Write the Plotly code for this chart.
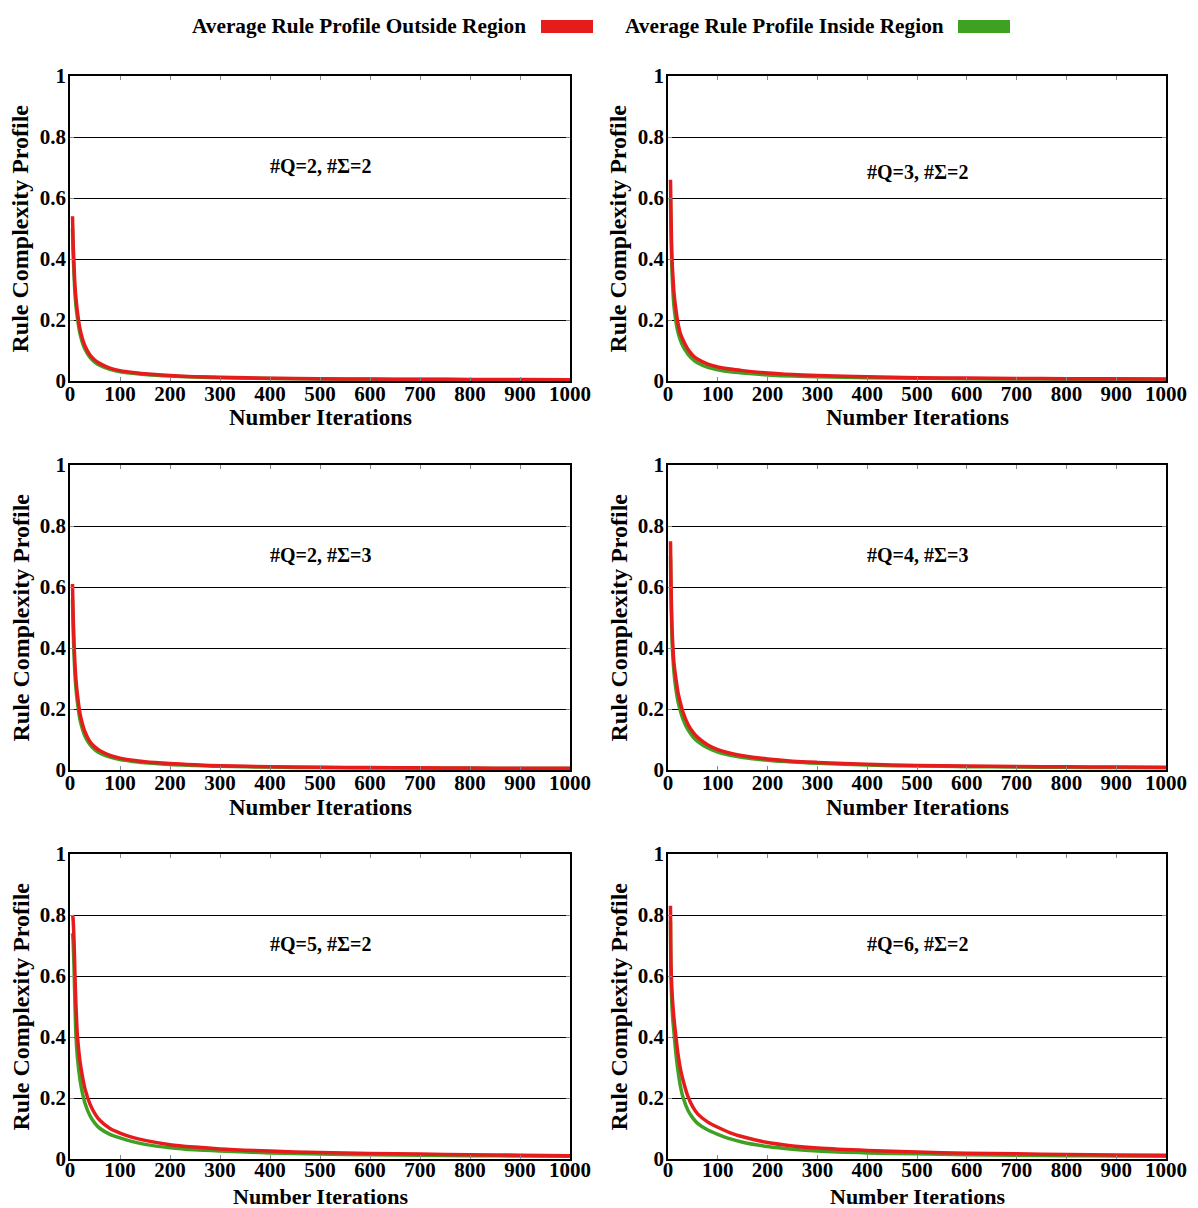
import plotly.graph_objects as go

# Iteration count at which each profile value was sampled
iterations = [5, 6, 8, 10, 12, 15, 20, 25, 30, 40, 50, 60, 80, 100, 125, 150,
              200, 250, 300, 400, 500, 600, 700, 800, 900, 1000]

# Panel labels (#Q states, #Sigma symbols)
panel_labels = ["#Q=2, #Σ=2", "#Q=3, #Σ=2", "#Q=2, #Σ=3",
                "#Q=4, #Σ=3", "#Q=5, #Σ=2", "#Q=6, #Σ=2"]

# Average rule profile outside the region, one list per panel
outside_q2s2 = [0.54, 0.47, 0.38, 0.31, 0.27, 0.225, 0.17, 0.138, 0.115, 0.085, 0.068, 0.057, 0.042,
                0.034, 0.028, 0.024, 0.018, 0.014, 0.012, 0.009, 0.0075, 0.0065, 0.0058, 0.0052, 0.0047, 0.0043]
outside_q3s2 = [0.66, 0.55, 0.40, 0.34, 0.29, 0.245, 0.19, 0.155, 0.135, 0.104, 0.084, 0.071, 0.055,
                0.046, 0.039, 0.034, 0.026, 0.021, 0.018, 0.014, 0.011, 0.0095, 0.0085, 0.0075, 0.007, 0.0065]
outside_q2s3 = [0.61, 0.53, 0.42, 0.345, 0.295, 0.245, 0.185, 0.15, 0.125, 0.093, 0.075, 0.063, 0.048,
                0.039, 0.032, 0.027, 0.021, 0.017, 0.014, 0.011, 0.009, 0.0078, 0.007, 0.0063, 0.0058, 0.0054]
outside_q4s3 = [0.75, 0.62, 0.47, 0.40, 0.35, 0.31, 0.255, 0.22, 0.19, 0.15, 0.124, 0.106, 0.082,
                0.067, 0.055, 0.047, 0.036, 0.029, 0.025, 0.019, 0.015, 0.013, 0.0115, 0.0105, 0.0095, 0.009]
outside_q5s2 = [0.80, 0.79, 0.72, 0.60, 0.50, 0.40, 0.32, 0.27, 0.23, 0.18, 0.148, 0.126, 0.100,
                0.085, 0.071, 0.061, 0.047, 0.039, 0.033, 0.026, 0.021, 0.018, 0.016, 0.014, 0.0125, 0.011]
outside_q6s2 = [0.83, 0.64, 0.55, 0.50, 0.46, 0.415, 0.345, 0.295, 0.26, 0.205, 0.17, 0.147, 0.121,
                0.104, 0.086, 0.073, 0.054, 0.043, 0.036, 0.028, 0.023, 0.019, 0.017, 0.015, 0.0135, 0.012]

# Average rule profile inside the region, one list per panel
inside_q2s2 = [0.50, 0.43, 0.35, 0.285, 0.245, 0.205, 0.155, 0.125, 0.104, 0.077, 0.061, 0.051, 0.038,
               0.030, 0.025, 0.021, 0.016, 0.013, 0.011, 0.008, 0.0065, 0.0055, 0.005, 0.0045, 0.004, 0.0037]
inside_q3s2 = [0.60, 0.49, 0.36, 0.29, 0.245, 0.205, 0.16, 0.133, 0.114, 0.088, 0.071, 0.059, 0.045,
               0.037, 0.030, 0.026, 0.020, 0.016, 0.014, 0.011, 0.009, 0.0075, 0.0065, 0.006, 0.0055, 0.005]
inside_q2s3 = [0.56, 0.48, 0.38, 0.31, 0.265, 0.22, 0.165, 0.134, 0.111, 0.083, 0.066, 0.055, 0.042,
               0.034, 0.028, 0.024, 0.018, 0.015, 0.012, 0.0095, 0.0078, 0.0068, 0.006, 0.0055, 0.005, 0.0046]
inside_q4s3 = [0.70, 0.57, 0.43, 0.365, 0.32, 0.275, 0.225, 0.193, 0.167, 0.132, 0.109, 0.093, 0.072,
               0.059, 0.048, 0.041, 0.032, 0.026, 0.022, 0.016, 0.013, 0.011, 0.0098, 0.0088, 0.008, 0.0075]
inside_q5s2 = [0.74, 0.72, 0.63, 0.50, 0.40, 0.33, 0.26, 0.215, 0.183, 0.142, 0.117, 0.100, 0.081,
               0.069, 0.057, 0.048, 0.037, 0.030, 0.026, 0.020, 0.016, 0.014, 0.012, 0.011, 0.0098, 0.009]
inside_q6s2 = [0.78, 0.60, 0.50, 0.45, 0.415, 0.36, 0.29, 0.238, 0.203, 0.16, 0.134, 0.116, 0.095,
               0.081, 0.066, 0.055, 0.041, 0.032, 0.026, 0.020, 0.017, 0.014, 0.012, 0.011, 0.010, 0.009]

outside_series = [outside_q2s2, outside_q3s2, outside_q2s3, outside_q4s3, outside_q5s2, outside_q6s2]
inside_series = [inside_q2s2, inside_q3s2, inside_q2s3, inside_q4s3, inside_q5s2, inside_q6s2]
label_heights = [0.705, 0.685, 0.705, 0.705, 0.705, 0.705]

x_ticks = list(range(0, 1001, 100))
y_ticks = [0, 0.2, 0.4, 0.6, 0.8, 1]
y_tick_text = ["0", "0.2", "0.4", "0.6", "0.8", "1"]

x_title = "Number Iterations"
y_title = "Rule Complexity Profile"
legend_outside = "Average Rule Profile Outside Region"
legend_inside = "Average Rule Profile Inside Region"

RED = "#e61b1c"
GREEN = "#3fa122"
FONT = "Liberation Serif"

W, H = 1198, 1208
col_px = [(70, 570), (668, 1166)]
row_px = [(76, 381), (465, 770), (854, 1159)]
x_title_px = [418, 807, 1196]
x_title_size = [23, 23, 22]
x_label_standoff = [-7, -7, -9]
y_title_px = [20, 618]

fig = go.Figure()
layout = dict(
    width=W, height=H, margin=dict(l=0, r=0, t=0, b=0, autoexpand=False),
    paper_bgcolor="white", plot_bgcolor="white",
    font=dict(family=FONT, color="black"),
    showlegend=False,
)
annotations = []
shapes = []

for i in range(6):
    r, c = divmod(i, 2)
    xa = "x" if i == 0 else f"x{i + 1}"
    ya = "y" if i == 0 else f"y{i + 1}"
    xkey = "xaxis" if i == 0 else f"xaxis{i + 1}"
    ykey = "yaxis" if i == 0 else f"yaxis{i + 1}"
    x0, x1 = col_px[c]
    y0, y1 = row_px[r]

    fig.add_trace(go.Scatter(x=iterations, y=inside_series[i], mode="lines",
                             line=dict(color=GREEN, width=3.5, shape="spline", smoothing=0.8),
                             xaxis=xa, yaxis=ya, name=legend_inside))
    fig.add_trace(go.Scatter(x=iterations, y=outside_series[i], mode="lines",
                             line=dict(color=RED, width=3.5, shape="spline", smoothing=0.8),
                             xaxis=xa, yaxis=ya, name=legend_outside))

    layout[xkey] = dict(
        domain=[x0 / W, x1 / W], range=[0, 1000], anchor=ya, automargin=False,
        tickvals=x_ticks, ticktext=[f"<b>{t}</b>" for t in x_ticks],
        ticks="inside", ticklen=4, tickcolor="#888", ticklabelstandoff=x_label_standoff[r],
        showline=True, linecolor="black", linewidth=1.5, mirror="ticks",
        showgrid=False, zeroline=False,
        tickfont=dict(family=FONT, size=21, color="black"),
    )
    layout[ykey] = dict(
        domain=[1 - y1 / H, 1 - y0 / H], range=[0, 1], anchor=xa, automargin=False,
        tickvals=y_ticks, ticktext=[f"<b>{t}</b>" for t in y_tick_text],
        ticks="inside", ticklen=4, tickcolor="#888", ticklabelstandoff=-2,
        showline=True, linecolor="black", linewidth=1.5, mirror="ticks",
        showgrid=True, gridcolor="black", gridwidth=1, zeroline=False,
        tickfont=dict(family=FONT, size=21, color="black"),
    )
    annotations.append(dict(
        x=500, y=label_heights[i], xref=xa, yref=ya, showarrow=False,
        text=f"<b>{panel_labels[i]}</b>", font=dict(family=FONT, size=20, color="black"),
    ))
    # Axis titles
    annotations.append(dict(
        x=(x0 + x1) / 2 / W, y=1 - x_title_px[r] / H, xref="paper", yref="paper",
        xanchor="center", yanchor="middle", showarrow=False, borderpad=0,
        text=f"<b>{x_title}</b>", font=dict(family=FONT, size=x_title_size[r], color="black"),
    ))
    annotations.append(dict(
        x=y_title_px[c] / W, y=1 - (y0 + y1) / 2 / H, xref="paper", yref="paper",
        xanchor="center", yanchor="middle", showarrow=False, textangle=-90,
        text=f"<b>{y_title}</b>", font=dict(family=FONT, size=24, color="black"),
    ))

# Legend row: text followed by a colour swatch
legend_y = 1 - 26 / H
annotations.append(dict(x=528 / W, y=legend_y, xref="paper", yref="paper",
                        xanchor="right", yanchor="middle", showarrow=False,
                        text=f"<b>{legend_outside}</b>",
                        font=dict(family=FONT, size=21.3, color="black")))
annotations.append(dict(x=946 / W, y=legend_y, xref="paper", yref="paper",
                        xanchor="right", yanchor="middle", showarrow=False,
                        text=f"<b>{legend_inside}</b>",
                        font=dict(family=FONT, size=21.3, color="black")))
shapes.append(dict(type="rect", xref="paper", yref="paper",
                   x0=541 / W, x1=593 / W, y0=1 - 33 / H, y1=1 - 20 / H,
                   fillcolor=RED, line=dict(width=0)))
shapes.append(dict(type="rect", xref="paper", yref="paper",
                   x0=958 / W, x1=1010 / W, y0=1 - 33 / H, y1=1 - 20 / H,
                   fillcolor=GREEN, line=dict(width=0)))

layout["annotations"] = annotations
layout["shapes"] = shapes
fig.update_layout(**layout)
fig.write_html("out.html")
